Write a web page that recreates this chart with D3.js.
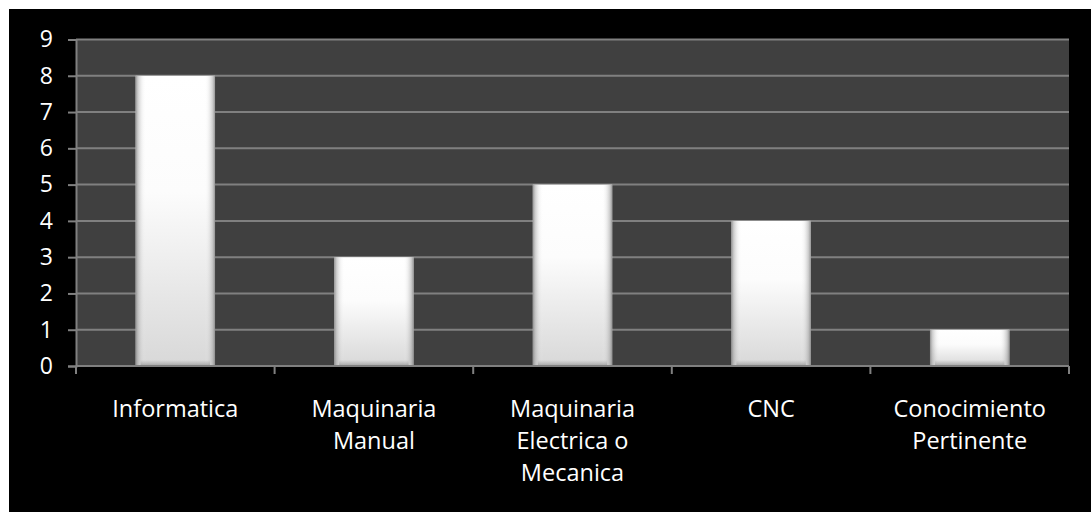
<!DOCTYPE html>
<html>
<head>
<meta charset="utf-8">
<script src="https://cdn.jsdelivr.net/npm/d3@7"></script>
<style>
  html, body { margin: 0; padding: 0; background: #ffffff; }
  svg { display: block; }
</style>
</head>
<body>
<script>
// Course topics and how many people requested each
const categories = ["Informatica", "Maquinaria Manual", "Maquinaria Electrica o Mecanica", "CNC", "Conocimiento Pertinente"];
const categoryLines = [["Informatica"], ["Maquinaria", "Manual"], ["Maquinaria", "Electrica o", "Mecanica"], ["CNC"], ["Conocimiento", "Pertinente"]];
const values = [8, 3, 5, 4, 1];
const yTicks = [0, 1, 2, 3, 4, 5, 6, 7, 8, 9];

const width = 1091, height = 512;
const plot = { left: 76, right: 1069, top: 39.5, bottom: 366 };
const font = "'Open Sans', sans-serif";

const svg = d3.select("body").append("svg")
  .attr("width", width).attr("height", height);

const defs = svg.append("defs");
// vertical shading of the bar body
const gv = defs.append("linearGradient").attr("id", "barV")
  .attr("x1", 0).attr("y1", 0).attr("x2", 0).attr("y2", 1);
gv.append("stop").attr("offset", "0%").attr("stop-color", "#ffffff");
gv.append("stop").attr("offset", "40%").attr("stop-color", "#fcfcfc");
gv.append("stop").attr("offset", "100%").attr("stop-color", "#d8d8d8");
// darkened side bevels
const gh = defs.append("linearGradient").attr("id", "barH")
  .attr("x1", 0).attr("y1", 0).attr("x2", 1).attr("y2", 0);
[[0, "#7a7a7a", 0.8], [0.03, "#9a9a9a", 0.5], [0.08, "#c8c8c8", 0.2], [0.13, "#ffffff", 0],
 [0.87, "#ffffff", 0], [0.92, "#c8c8c8", 0.2], [0.97, "#9a9a9a", 0.5], [1, "#7a7a7a", 0.8]]
  .forEach(([o, c, a]) => gh.append("stop").attr("offset", o).attr("stop-color", c).attr("stop-opacity", a));
// bottom bevel
const gb = defs.append("linearGradient").attr("id", "barB")
  .attr("x1", 0).attr("y1", 0).attr("x2", 0).attr("y2", 1);
gb.append("stop").attr("offset", "0%").attr("stop-color", "#9a9a9a").attr("stop-opacity", 0);
gb.append("stop").attr("offset", "100%").attr("stop-color", "#8a8a8a").attr("stop-opacity", 0.7);

// chart background
svg.append("rect").attr("x", 9).attr("y", 9).attr("width", width - 9).attr("height", height - 9)
  .attr("fill", "#000000");
svg.append("rect").attr("x", plot.left).attr("y", plot.top)
  .attr("width", plot.right - plot.left).attr("height", plot.bottom - plot.top)
  .attr("fill", "#404040");

const x = d3.scaleBand().domain(categories).range([plot.left, plot.right])
  .paddingInner(0.6).paddingOuter(0.3);
const y = d3.scaleLinear().domain([0, 9]).range([plot.bottom, plot.top]);

// horizontal gridlines
svg.append("g").selectAll("line").data(yTicks.filter(d => d > 0)).join("line")
  .attr("x1", plot.left).attr("x2", plot.right)
  .attr("y1", d => y(d)).attr("y2", d => y(d))
  .attr("stroke", "#808080").attr("stroke-width", 2);

// y axis
const yAxis = svg.append("g").attr("transform", `translate(${plot.left},0)`)
  .call(d3.axisLeft(y).tickValues(yTicks).tickSize(8).tickPadding(15).tickFormat(d3.format("d")));
yAxis.select(".domain").attr("stroke", "#808080").attr("stroke-width", 2);
yAxis.selectAll(".tick line").attr("stroke", "#808080").attr("stroke-width", 2);
yAxis.selectAll(".tick text").attr("fill", "#ffffff").attr("font-family", font).attr("font-size", 23);

// bars
const bars = svg.append("g").selectAll("g").data(values).join("g");
bars.append("rect")
  .attr("x", (d, i) => x(categories[i])).attr("y", d => y(d))
  .attr("width", x.bandwidth()).attr("height", d => y(0) - y(d))
  .attr("fill", "url(#barV)");
bars.append("rect")
  .attr("x", (d, i) => x(categories[i])).attr("y", d => y(d))
  .attr("width", x.bandwidth()).attr("height", d => y(0) - y(d))
  .attr("fill", "url(#barH)");
bars.append("rect")
  .attr("x", (d, i) => x(categories[i]) + 5).attr("y", d => y(0) - 6)
  .attr("width", x.bandwidth() - 10).attr("height", 6)
  .attr("fill", "url(#barB)");

// x axis line and category boundary ticks
const step = x.step();
svg.append("line").attr("x1", plot.left).attr("x2", plot.right)
  .attr("y1", y(0)).attr("y2", y(0)).attr("stroke", "#808080").attr("stroke-width", 2);
const bounds = categories.map(c => x(c) + x.bandwidth() / 2 - step / 2).concat([plot.right]);
svg.append("g").selectAll("line").data(bounds).join("line")
  .attr("x1", d => d).attr("x2", d => d)
  .attr("y1", y(0)).attr("y2", y(0) + 8)
  .attr("stroke", "#808080").attr("stroke-width", 2);

// category labels
const labels = svg.append("g").selectAll("text").data(categories).join("text")
  .attr("x", c => x(c) + x.bandwidth() / 2)
  .attr("y", 417)
  .attr("text-anchor", "middle")
  .attr("fill", "#ffffff").attr("font-family", font).attr("font-size", 23.5);
labels.selectAll("tspan").data((c, i) => categoryLines[i]).join("tspan")
  .attr("x", function () { return d3.select(this.parentNode).attr("x"); })
  .attr("dy", (d, j) => j === 0 ? 0 : 32)
  .text(d => d);
</script>
</body>
</html>
